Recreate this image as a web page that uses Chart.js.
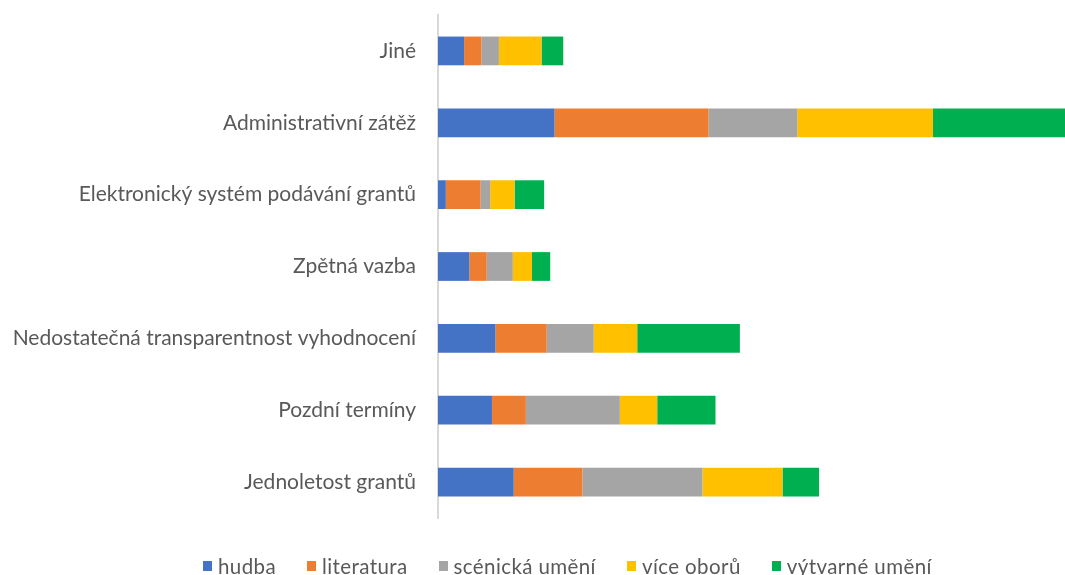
<!DOCTYPE html>
<html lang="cs">
<head>
<meta charset="utf-8">
<title>Graf</title>
<script src="https://cdn.jsdelivr.net/npm/chart.js@4.4.1/dist/chart.umd.min.js"></script>
<style>
    html, body { margin: 0; padding: 0; background: #fff; }
    #wrap { position: relative; width: 1065px; height: 575px; overflow: hidden; }
    #legenda {
        position: absolute; left: 203px; top: 554px;
        display: flex; gap: 31px; align-items: center;
        font-family: Lato, "Open Sans", sans-serif; font-size: 20.5px; color: #595959;
        letter-spacing: 0.4px;
        white-space: nowrap;
    }
    #legenda .item { display: flex; align-items: center; }
    #legenda .box { width: 9px; height: 10px; margin-right: 6px; }
</style>
</head>
<body>
<div id="wrap">
    <canvas id="graf" width="1065" height="575"></canvas>
    <div id="legenda"></div>
</div>
<script>
// Kategorie (odshora dolů)
const kategorie = [
    'Jiné',
    'Administrativní zátěž',
    'Elektronický systém podávání grantů',
    'Zpětná vazba',
    'Nedostatečná transparentnost vyhodnocení',
    'Pozdní termíny',
    'Jednoletost grantů'
];

// Hodnoty
const hudba = [3.0, 13.4, 0.9, 3.6, 6.6, 6.2, 8.7];
const literatura = [2.0, 17.7, 4.0, 2.0, 5.9, 3.9, 7.9];
const scenicka = [2.0, 10.2, 1.1, 3.0, 5.4, 10.8, 13.8];
const viceOboru = [4.9, 15.6, 2.8, 2.2, 5.0, 4.3, 9.2];
const vytvarne = [2.5, 16.0, 3.4, 2.1, 11.8, 6.7, 4.2];

const nazvy = ['hudba', 'literatura', 'scénická umění', 'více oborů', 'výtvarné umění'];
const barvy = ['#4472C4', '#ED7D31', '#A5A5A5', '#FFC000', '#00B050'];
const serie = [hudba, literatura, scenicka, viceOboru, vytvarne];

const osaMax = 72.07;

const datasets = serie.map((data, i) => ({
    label: nazvy[i],
    data: data,
    backgroundColor: barvy[i],
    borderWidth: 0,
    categoryPercentage: 1,
    barPercentage: 0.4
}));

new Chart(document.getElementById('graf'), {
    type: 'bar',
    data: { labels: kategorie, datasets: datasets },
    options: {
        indexAxis: 'y',
        responsive: false,
        animation: false,
        layout: { padding: { top: 15, bottom: 57, left: 0, right: 0 } },
        plugins: {
            legend: { display: false },
            tooltip: { enabled: false }
        },
        scales: {
            x: {
                stacked: true,
                display: false,
                min: 0,
                max: osaMax
            },
            y: {
                stacked: true,
                grid: { display: false, drawTicks: false },
                border: { display: true, color: '#d9d9d9', width: 2 },
                ticks: {
                    color: '#595959',
                    padding: 22,
                    font: { family: 'Lato', size: 21 }
                },
                afterFit: (scale) => {
                    scale.width = 438;
                    scale.paddingTop = 0;
                    scale.paddingBottom = 0;
                }
            }
        }
    }
});

// Legenda pod grafem
const legenda = document.getElementById('legenda');
nazvy.forEach((nazev, i) => {
    const item = document.createElement('div');
    item.className = 'item';
    item.innerHTML = `<span class="box" style="background:${barvy[i]}"></span><span>${nazev}</span>`;
    legenda.appendChild(item);
});
</script>
</body>
</html>
